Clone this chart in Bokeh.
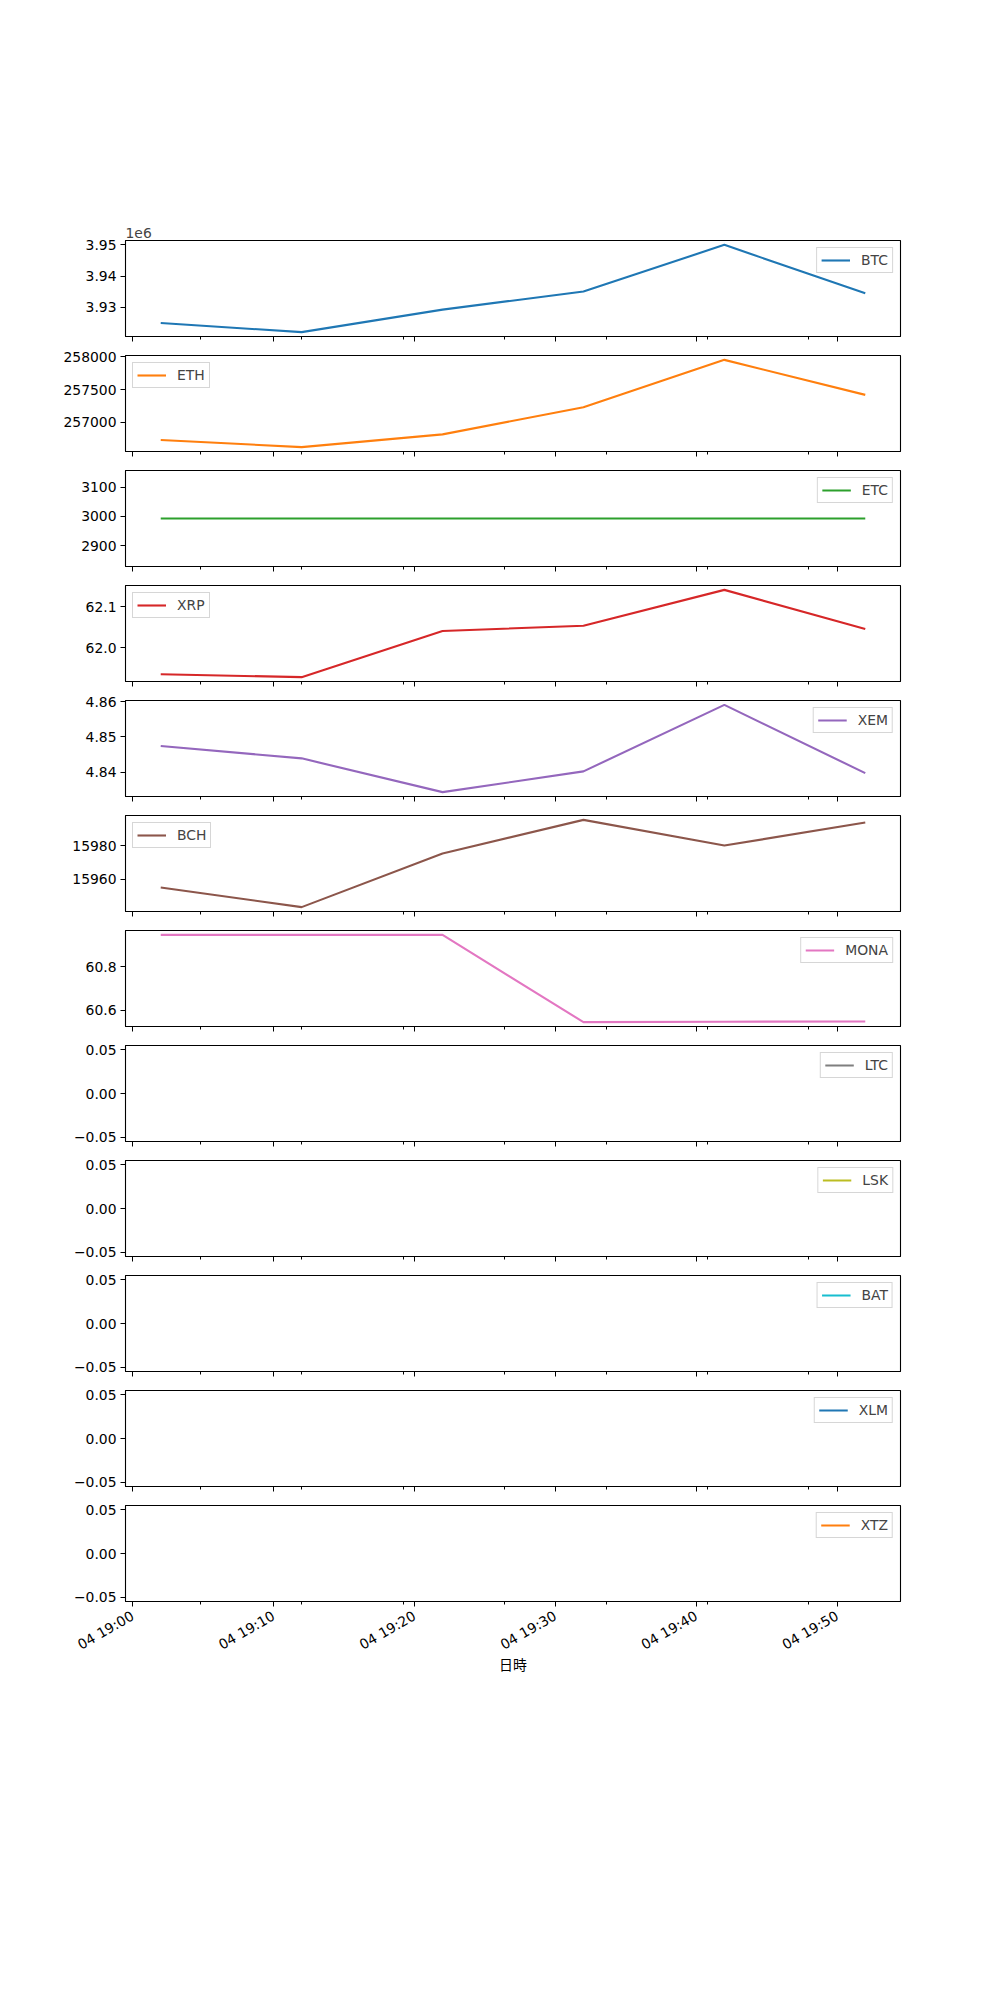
import math
import pandas as pd
from bokeh.plotting import figure
from bokeh.layouts import column
from bokeh.models import Range1d, FixedTicker, CustomJSTickFormatter, DatetimeTickFormatter
from bokeh.embed import file_html
from bokeh.resources import INLINE

nan = float("nan")

# ---- data ----
times = ["2021-02-04 19:02", "2021-02-04 19:12", "2021-02-04 19:22",
         "2021-02-04 19:32", "2021-02-04 19:42", "2021-02-04 19:52"]
names = ["BTC", "ETH", "ETC", "XRP", "XEM", "BCH", "MONA", "LTC", "LSK", "BAT", "XLM", "XTZ"]
BTC = [3925000, 3922100, 3929300, 3935100, 3950000, 3934500]
ETH = [256730, 256620, 256815, 257230, 257953, 257418]
ETC = [2993, 2993, 2993, 2993, 2993, 2993]
XRP = [61.936, 61.929, 62.041, 62.054, 62.141, 62.046]
XEM = [4.8474, 4.8439, 4.8343, 4.8402, 4.8591, 4.8397]
BCH = [15955.2, 15943.5, 15975.5, 15995.5, 15980.2, 15993.9]
MONA = [60.947, 60.947, 60.947, 60.544, 60.546, 60.547]
LTC = [nan, nan, nan, nan, nan, nan]
LSK = [nan, nan, nan, nan, nan, nan]
BAT = [nan, nan, nan, nan, nan, nan]
XLM = [nan, nan, nan, nan, nan, nan]
XTZ = [nan, nan, nan, nan, nan, nan]
series = [BTC, ETH, ETC, XRP, XEM, BCH, MONA, LTC, LSK, BAT, XLM, XTZ]

colors = ["#1f77b4", "#ff7f0e", "#2ca02c", "#d62728", "#9467bd", "#8c564b",
          "#e377c2", "#7f7f7f", "#bcbd22", "#17becf", "#1f77b4", "#ff7f0e"]
legend_loc = ["top_right", "top_left", "top_right", "top_left", "top_right", "top_left",
              "top_right", "top_right", "top_right", "top_right", "top_right", "top_right"]

empty_ticks = [-0.05, 0.0, 0.05]
y_ticks = [[3.93e6, 3.94e6, 3.95e6], [257000, 257500, 258000], [2900, 3000, 3100],
           [62.0, 62.1], [4.84, 4.85, 4.86], [15960, 15980], [60.6, 60.8],
           empty_ticks, empty_ticks, empty_ticks, empty_ticks, empty_ticks]
y_scale = [1e6, 1, 1, 1, 1, 1, 1, 1, 1, 1, 1, 1]
y_decimals = [2, 0, 0, 1, 2, 0, 1, 2, 2, 2, 2, 2]

x_major = ["2021-02-04 19:00", "2021-02-04 19:10", "2021-02-04 19:20",
           "2021-02-04 19:30", "2021-02-04 19:40", "2021-02-04 19:50"]
x_minor = ["2021-02-04 19:04:48", "2021-02-04 19:12:00", "2021-02-04 19:19:12",
           "2021-02-04 19:26:24", "2021-02-04 19:33:36", "2021-02-04 19:40:48",
           "2021-02-04 19:48:00"]
x_label = "日時"

# ---- helpers ----
FONT = "DejaVu Sans"
FS = "13.9px"
t = pd.to_datetime(times)
def ms(ts):
    return pd.Timestamp(ts).value / 1e6
x_ms = [ms(v) for v in t]
xspan = x_ms[-1] - x_ms[0]
x_start = x_ms[0] - 0.05 * xspan
x_end = x_ms[-1] + 0.05 * xspan
major_ms = [ms(v) for v in x_major]
minor_ms = [ms(v) for v in x_minor]

def yrange(vals):
    fin = [v for v in vals if v == v]
    if not fin:
        return -0.055, 0.055
    lo, hi = min(fin), max(fin)
    if lo == hi:
        lo, hi = lo - 0.05 * abs(lo), hi + 0.05 * abs(hi)
    pad = 0.05 * (hi - lo)
    return lo - pad, hi + pad

dt_fmt = "%d %H:%M"
figs = []
n = len(names)
for i, (name, vals) in enumerate(zip(names, series)):
    first = i == 0
    last = i == n - 1
    lo, hi = yrange(vals)
    p = figure(frame_width=775, frame_height=96, x_axis_type="datetime",
               x_range=Range1d(x_start, x_end), y_range=Range1d(lo, hi),
               output_backend="svg", toolbar_location=None,
               min_border_left=125, min_border_right=100,
               min_border_top=240 if first else 10,
               min_border_bottom=385 if last else 9)
    p.line(x_ms, vals, line_color=colors[i], line_width=2.1, legend_label=name)
    p.xgrid.visible = False
    p.ygrid.visible = False
    p.outline_line_color = "black"
    p.outline_line_width = 1.1
    p.background_fill_color = "white"
    p.border_fill_color = "white"

    xa = p.xaxis[0]
    xa.ticker = FixedTicker(ticks=major_ms, minor_ticks=minor_ms)
    xa.major_tick_in = 0
    xa.major_tick_out = 5
    xa.minor_tick_in = 0
    xa.minor_tick_out = 3
    xa.axis_line_color = "black"
    xa.major_tick_line_color = "black"
    xa.minor_tick_line_color = "black"
    xa.major_label_text_font = FONT
    if last:
        xa.formatter = DatetimeTickFormatter(seconds=dt_fmt, minsec=dt_fmt, minutes=dt_fmt,
                                             hourmin=dt_fmt, hours=dt_fmt, days=dt_fmt)
        xa.major_label_text_font_size = FS
        xa.major_label_orientation = math.pi / 6
        xa.major_label_standoff = 8
        xa.major_label_text_color = "black"
        xa.axis_label = x_label
        xa.axis_label_text_font = "Noto Sans CJK JP"
        xa.axis_label_text_font_size = FS
        xa.axis_label_text_font_style = "normal"
        xa.axis_label_text_color = "black"
        xa.axis_label_standoff = -8
    else:
        xa.formatter = CustomJSTickFormatter(code="return '';")
        xa.major_label_text_font_size = "0px"
        xa.major_label_standoff = 0

    ya = p.yaxis[0]
    ya.ticker = FixedTicker(ticks=y_ticks[i], minor_ticks=[])
    ya.formatter = CustomJSTickFormatter(args=dict(s=y_scale[i], d=y_decimals[i]),
                                         code="return (tick/s).toFixed(d).replace('-', '\u2212');")
    ya.major_tick_in = 0
    ya.major_tick_out = 5
    ya.minor_tick_line_color = None
    ya.axis_line_color = "black"
    ya.major_label_text_font = FONT
    ya.major_label_text_font_size = FS
    ya.major_label_text_color = "black"
    ya.major_label_standoff = 4

    if first:
        p.title.text = "1e6"
        p.title.align = "left"
        p.title.text_font = FONT
        p.title.text_font_size = FS
        p.title.text_font_style = "normal"
        p.title.standoff = 6

    lg = p.legend[0]
    lg.location = legend_loc[i]
    lg.margin = 7
    lg.padding = 4
    lg.spacing = 0
    lg.glyph_width = 29
    lg.glyph_height = 16
    lg.label_height = 16
    lg.label_standoff = 11
    lg.label_text_font = FONT
    lg.label_text_font_size = FS
    lg.border_line_color = "#cccccc"
    lg.border_line_alpha = 0.8
    lg.background_fill_alpha = 0.8
    figs.append(p)

layout = column(*figs, spacing=0)
open("out.html", "w").write(file_html(layout, INLINE))
